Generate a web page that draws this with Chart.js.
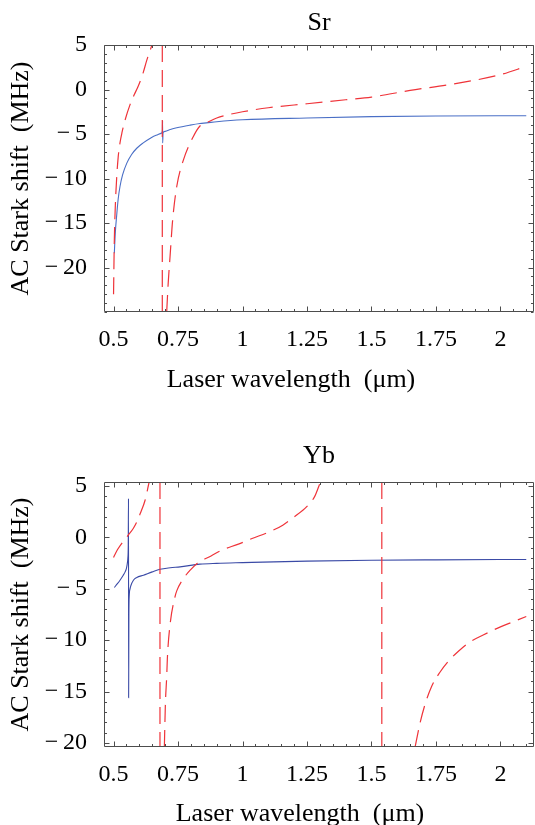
<!DOCTYPE html>
<html>
<head>
<meta charset="utf-8">
<script src="https://cdn.jsdelivr.net/npm/chart.js@4.4.1/dist/chart.umd.min.js"></script>
<style>
  body { margin: 0; background: #fff; }
  #wrap { position: relative; width: 535px; height: 825px; overflow: hidden; }
  canvas { position: absolute; left: 0; }
  .xlab {
    position: absolute; width: 400px; text-align: center; white-space: pre;
    font: 26px/26px 'Liberation Serif', 'Times New Roman', serif; color: #000;
  }
</style>
</head>
<body>
<div id="wrap">
  <canvas id="srChart" width="535" height="410" style="top:0;width:535px;height:410px"></canvas>
  <canvas id="ybChart" width="535" height="415" style="top:410px;width:535px;height:415px"></canvas>
  <div class="xlab" style="left:91px;top:366px">Laser wavelength  (μm)</div>
  <div class="xlab" style="left:100px;top:800px">Laser wavelength  (μm)</div>
</div>
<script>
// axis ticks (labelled ones)
const xTickValues = [0.5, 0.75, 1, 1.25, 1.5, 1.75, 2];
const xTickLabels = ['0.5', '0.75', '1', '1.25', '1.5', '1.75', '2'];
const yTickValues = [5, 0, -5, -10, -15, -20];
const yTickLabels = ['5', '0', '\u2212\u20095', '\u2212\u200910', '\u2212\u200915', '\u2212\u200920'];

// ---- Sr ----
const srBlueWl = [0.503, 0.507, 0.512, 0.518, 0.525, 0.535, 0.551, 0.570, 0.590, 0.615, 0.641, 0.665, 0.686, 0.6895, 0.690, 0.6905, 0.692, 0.700, 0.720, 0.745, 0.797, 0.835, 0.860, 0.90, 1.0, 1.25, 1.5, 1.75, 2.1];
const srBlueShift = [-18.4, -16.0, -14.2, -12.3, -10.9, -9.6, -8.3, -7.3, -6.6, -6.0, -5.5, -5.15, -4.9, -4.6, -3.5, -6.0, -4.85, -4.7, -4.5, -4.3, -4.0, -3.82, -3.75, -3.62, -3.4, -3.2, -3.05, -2.98, -2.95];
const srRedAWl = [0.500, 0.503, 0.507, 0.512, 0.518, 0.525, 0.533, 0.545, 0.564, 0.580, 0.593, 0.603, 0.615, 0.629, 0.649];
const srRedAShift = [-23, -17, -13, -10, -7.6, -6.0, -4.8, -3.4, -1.7, -0.6, 0.2, 0.9, 1.9, 3.3, 5.0];
const srRedBWl = [0.706, 0.712, 0.719, 0.729, 0.745, 0.771, 0.809, 0.835, 0.860, 0.90, 0.95, 1.0, 1.1, 1.25, 1.4, 1.5, 1.65, 1.82, 2.0, 2.1];
const srRedBShift = [-25, -21.7, -18.8, -14.7, -10.9, -7.9, -5.3, -4.1, -3.75, -3.2, -2.8, -2.5, -2.05, -1.6, -1.15, -0.85, -0.1, 0.63, 1.67, 2.6];
const srPoles = [0.689];

// ---- Yb ----
const ybBlueWl = [0.503, 0.515, 0.525, 0.537, 0.545, 0.550, 0.553, 0.5555, 0.557, 0.558, 0.5585, 0.5595, 0.561, 0.564, 0.567, 0.577, 0.590, 0.616, 0.650, 0.680, 0.720, 0.758, 0.835, 0.90, 1.0, 1.25, 1.5, 1.75, 2.1];
const ybBlueShift = [-4.87, -4.5, -4.16, -3.7, -3.35, -3.0, -2.6, -2.0, -0.8, 3.8, -15.6, -7.5, -5.6, -5.0, -4.7, -4.16, -3.9, -3.67, -3.35, -3.1, -2.95, -2.86, -2.6, -2.52, -2.45, -2.3, -2.22, -2.18, -2.14];
const ybRedAWl = [0.500, 0.515, 0.536, 0.557, 0.577, 0.590, 0.603, 0.622, 0.638];
const ybRedAShift = [-1.95, -1.2, -0.43, 0.22, 0.9, 1.5, 2.3, 3.6, 5.4];
const ybRedBWl = [0.697, 0.701, 0.706, 0.709, 0.719, 0.738, 0.745, 0.771, 0.80, 0.825, 0.878, 0.918, 0.984, 1.037, 1.1, 1.156, 1.2, 1.249, 1.28, 1.302];
const ybRedBShift = [-20.4, -16.2, -13.6, -11.6, -8.5, -5.8, -5.2, -4.0, -3.1, -2.5, -1.8, -1.25, -0.65, -0.1, 0.5, 1.2, 2.0, 3.0, 4.0, 5.4];
const ybRedCWl = [1.669, 1.688, 1.707, 1.733, 1.766, 1.80, 1.836, 1.88, 1.933, 2.0, 2.05, 2.1];
const ybRedCShift = [-20.4, -18.1, -16.3, -14.5, -13.1, -12.0, -11.1, -10.2, -9.5, -8.7, -8.2, -7.7];
const ybPoles = [0.680, 1.54];

const RED = '#ef3339';
const DASH = [17, 8];

Chart.defaults.font.family = "'Liberation Serif', 'Times New Roman', serif";
Chart.defaults.color = '#000';

const pts = (xs, ys) => xs.map((x, i) => ({ x: x, y: ys[i] }));

const curve = (data, color, dashed) => ({
  data: data,
  borderColor: color,
  borderWidth: dashed ? 1.2 : 1.1,
  borderDash: dashed ? DASH : [],
  pointRadius: 0,
  fill: false,
  cubicInterpolationMode: 'monotone'
});

// vertical connecting segment across a resonance, full plot height
const pole = (x, lo, hi) => ({
  data: [{ x: x, y: hi }, { x: x, y: lo }],
  borderColor: RED,
  borderWidth: 1.2,
  borderDash: DASH,
  pointRadius: 0,
  fill: false,
  tension: 0
});

const near = (arr, v) => arr.findIndex(a => Math.abs(a - v) < 1e-6);

// Mathematica-like frame with inward ticks on all four sides
const frameTicks = {
  id: 'frameTicks',
  afterDraw(chart) {
    const { ctx, chartArea: a, scales: { x, y } } = chart;
    const L = Math.round(a.left) + 0.5, R = Math.round(a.right) - 0.5;
    const T = Math.round(a.top) + 0.5, B = Math.round(a.bottom) - 0.5;
    ctx.save();
    ctx.strokeStyle = '#4d4d4d';
    ctx.lineWidth = 1;
    ctx.beginPath();
    ctx.rect(L, T, R - L, B - T);
    x.ticks.forEach(t => {
      const px = Math.round(x.getPixelForValue(t.value)) + 0.5;
      const len = near(xTickValues, t.value) >= 0 ? 5 : 2.5;
      ctx.moveTo(px, B); ctx.lineTo(px, B - len);
      ctx.moveTo(px, T); ctx.lineTo(px, T + len);
    });
    y.ticks.forEach(t => {
      const py = Math.round(y.getPixelForValue(t.value)) + 0.5;
      const len = near(yTickValues, t.value) >= 0 ? 5 : 2.5;
      ctx.moveTo(L, py); ctx.lineTo(L + len, py);
      ctx.moveTo(R, py); ctx.lineTo(R - len, py);
    });
    ctx.stroke();
    ctx.restore();
  }
};

function makeChart(id, title, datasets, yMin, yMax, canvasH, areaBottom, titlePad) {
  return new Chart(document.getElementById(id), {
    type: 'line',
    data: { datasets: datasets },
    plugins: [frameTicks],
    options: {
      responsive: false,
      devicePixelRatio: 1,
      animation: false,
      layout: { padding: { left: 0, right: 1, top: 0, bottom: 0 } },
      plugins: {
        legend: { display: false },
        tooltip: { enabled: false },
        title: {
          display: true,
          text: title,
          fullSize: false,
          color: '#000',
          font: { size: 26, weight: 'normal', lineHeight: 1 },
          padding: titlePad
        }
      },
      scales: {
        x: {
          type: 'linear',
          min: 0.463,
          max: 2.13,
          grid: { display: false },
          border: { display: false },
          afterBuildTicks: s => {
            const t = [];
            for (let v = 0.5; v <= 2.1001; v += 0.05) t.push({ value: +v.toFixed(2) });
            s.ticks = t;
          },
          afterFit: s => { s.height = canvasH - areaBottom; },
          ticks: {
            autoSkip: false,
            maxRotation: 0,
            padding: 8,
            font: { size: 24, lineHeight: 1 },
            callback: v => { const i = near(xTickValues, v); return i >= 0 ? xTickLabels[i] : ''; }
          }
        },
        y: {
          type: 'linear',
          min: yMin,
          max: yMax,
          grid: { display: false },
          border: { display: false },
          afterBuildTicks: s => {
            const t = [];
            for (let v = Math.ceil(yMin); v <= Math.floor(yMax); v++) t.push({ value: v });
            s.ticks = t;
          },
          afterFit: s => { s.width = 104; },
          title: {
            display: true,
            text: 'AC Stark shift\u00a0 (MHz)',
            font: { size: 26, lineHeight: 1 },
            padding: { top: 8.4, bottom: 0 }
          },
          ticks: {
            autoSkip: false,
            padding: 9,
            font: { size: 24, lineHeight: 1 },
            callback: v => { const i = near(yTickValues, v); return i >= 0 ? yTickLabels[i] : ''; }
          }
        }
      }
    }
  });
}

makeChart('srChart', 'Sr', [
  curve(pts(srRedAWl, srRedAShift), RED, true),
  pole(srPoles[0], -25, 5),
  curve(pts(srRedBWl, srRedBShift), RED, true),
  curve(pts(srBlueWl, srBlueShift), '#4a6fc6', false)
], -25, 5, 410, 312, { top: 10.5, bottom: 8.5 });

makeChart('ybChart', 'Yb', [
  curve(pts(ybRedAWl, ybRedAShift), RED, true),
  pole(ybPoles[0], -20.4, 5.4),
  curve(pts(ybRedBWl, ybRedBShift), RED, true),
  pole(ybPoles[1], -20.4, 5.4),
  curve(pts(ybRedCWl, ybRedCShift), RED, true),
  curve(pts(ybBlueWl, ybBlueShift), '#3a4aa6', false)
], -20.4, 5.4, 415, 337, { top: 33.5, bottom: 12.5 });
</script>
</body>
</html>
